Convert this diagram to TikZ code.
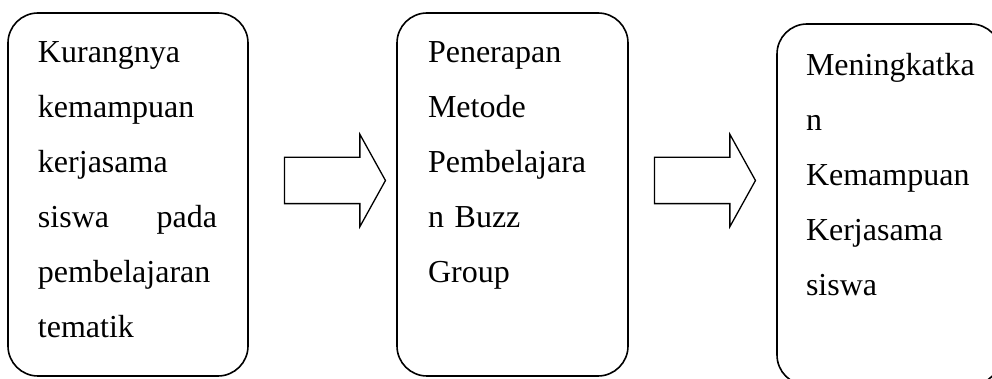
\documentclass[tikz,border=0pt]{standalone}
\usepackage{fontspec}
\setmainfont{Liberation Serif}
\usetikzlibrary{shapes.arrows,positioning}

\begin{document}
\begin{tikzpicture}[
        every path/.style={line width=.8pt},
        box/.style={draw, rounded corners=15pt, minimum height=181.5pt},
        txt/.style={anchor=north west, inner sep=0pt, align=left, font=\fontsize{16}{27.5}\selectfont},
        fatarrow/.style={draw, single arrow, single arrow head extend=11.5pt, single arrow tip angle=122,
            minimum height=50.5pt, minimum width=45.5pt, inner xsep=0pt, inner ysep=11.25pt, line width=.65pt}
    ]
    \useasboundingbox (0,0) rectangle (496pt,-189.5pt);

    % Nodes
    \node (lack)[box, minimum width=120pt] at (64pt,-97.25pt) {};
    \node (arr1)[fatarrow, right=17.5pt of lack, yshift=7pt] {};
    \node (buzz)[box, minimum width=115.5pt, right=5pt of arr1, yshift=-7pt] {};
    \node (arr2)[fatarrow, right=12.5pt of buzz, yshift=7pt] {};
    \node (gain)[box, minimum width=112pt, minimum height=180.5pt, right=10pt of arr2, yshift=-12pt] {};

    % Texts
    \node (lacktxt)[txt, text width=89.5pt] at ([xshift=15pt, yshift=-14.4pt]lack.north west) {Kurangnya\\
        kemampuan\\
        kerjasama\\
        siswa\hfill pada\\
        pembelajaran\\
        tematik};
    \node (buzztxt)[txt, text width=89.5pt] at ([xshift=15.5pt, yshift=-14.4pt]buzz.north west) {Penerapan\\
        Metode\\
        Pembelajara\\
        n Buzz\\
        Group};
    \node (gaintxt)[txt, text width=89.5pt] at ([xshift=14.5pt, yshift=-14.5pt]gain.north west) {Meningkatka\\
        n\\
        Kemampuan\\
        Kerjasama\\
        siswa};

\end{tikzpicture}
\end{document}
